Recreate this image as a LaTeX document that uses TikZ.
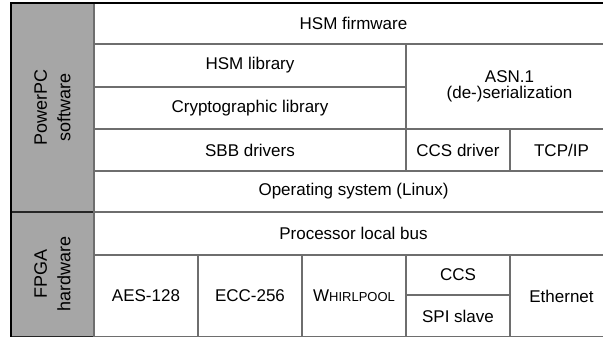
\documentclass[tikz,border=0pt]{standalone}
\usepackage{fontspec}
\setmainfont{Liberation Sans}
\usetikzlibrary{positioning}
\definecolor{LayerGray}{HTML}{A6A6A6}
\definecolor{RuleGray}{HTML}{6E6E6E}
\newcommand{\fakesc}[2]{#1{\fontsize{13}{15}\selectfont #2}}

\begin{document}
\begin{tikzpicture}[
  x=1pt,y=-1pt,
  cell/.style={
    draw=RuleGray,
    line width=1.1pt,
    fill=white,
    align=center,
    inner sep=0pt,
    outer sep=0pt,
    font=\fontsize{17}{16.5}\selectfont,
    text=black
  },
  side/.style={
    draw=black!85,
    line width=1.1pt,
    fill=LayerGray,
    inner sep=0pt,
    outer sep=0pt,
    minimum width=83pt
  },
  sidelabel/.style={
    rotate=90,
    align=center,
    font=\fontsize{18}{23.5}\selectfont
  },
  outline/.style={
    draw=black,
    line width=1.5pt
  }
]
\useasboundingbox (0,0) rectangle (603,337);

% -------------------------------------------------
% Left column
% -------------------------------------------------
\node[side, minimum height=209pt] (pc) at (52.5,107.5) {};
\node[side, minimum height=125pt] (fpga) at (52.5,274.5) {};
\node[sidelabel] (pclabel) at (pc.center) {PowerPC\\software};
\node[sidelabel] (fpgalabel) at (52.5,274) {FPGA\\hardware};

% -------------------------------------------------
% PowerPC software layers
% -------------------------------------------------
\node[cell, minimum width=519pt, minimum height=41pt] (fw) at (353.5,23.5) {HSM firmware};

\node[cell, minimum width=312pt, minimum height=43pt] (hsmlib) at (250,65.5) {HSM library};
\node[cell, minimum width=312pt, minimum height=42pt] (cryptolib) at (250,108) {Cryptographic library};
\node[cell, minimum width=207pt, minimum height=85pt] (asn) at (509.5,86.5) {ASN.1\\(de-)serialization};

\node[cell, minimum width=312pt, minimum height=42pt] (sbb) at (250,150) {SBB drivers};
\node[cell, minimum width=104pt, minimum height=42pt] (ccsdrv) at (458,150) {CCS driver};
\node[cell, minimum width=103pt, minimum height=42pt] (tcpip) at (561.5,150) {TCP/IP};

\node[cell, minimum width=519pt, minimum height=41pt] (os) at (353.5,191.5) {Operating system (Linux)};

% -------------------------------------------------
% FPGA hardware layers
% -------------------------------------------------
\node[cell, minimum width=519pt, minimum height=43pt] (plb) at (353.5,233.5) {Processor local bus};

\node[cell, minimum width=104pt, minimum height=82pt] (aes) at (146,296) {AES-128};
\node[cell, minimum width=104pt, minimum height=82pt] (ecc) at (250,296) {ECC-256};
\node[cell, minimum width=104pt, minimum height=82pt] (whirl) at (354,296) {\fakesc{W}{HIRLPOOL}};
\node[cell, minimum width=104pt, minimum height=40pt] (ccs) at (458,275) {CCS};
\node[cell, minimum width=104pt, minimum height=42pt] (spi) at (458,316) {SPI slave};
\node[cell, minimum width=103pt, minimum height=82pt] (eth) at (561.5,296) {Ethernet};

% outer frame
\draw[outline] (fpga.south west) -- (pc.north west) -- (fw.north east);

\end{tikzpicture}
\end{document}
